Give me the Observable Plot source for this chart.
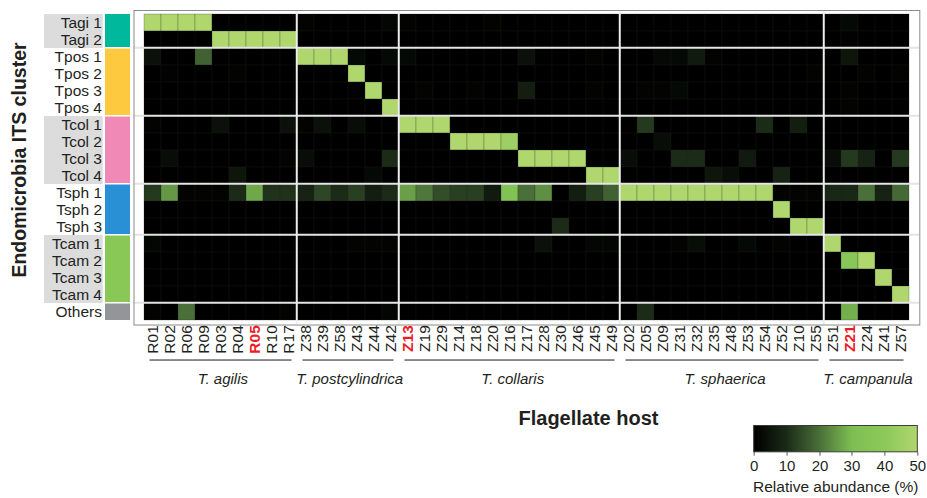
<!DOCTYPE html>
<html>
<head>
<meta charset="utf-8">
<script src="https://cdn.jsdelivr.net/npm/d3@7"></script>
<script src="https://cdn.jsdelivr.net/npm/@observablehq/plot@0.6"></script>
<style>
  body { margin: 0; background: #fff; overflow: hidden; font-family: "Liberation Sans", Arial, Helvetica, sans-serif; }
  #wrap { position: relative; width: 927px; height: 498px; overflow: hidden; }
  #chart { position: absolute; left: 0; top: 0; }
  #legend { position: absolute; left: 744px; top: 425px; }
  #legendLabel { position: absolute; left: 753px; top: 478px; font-size: 15.5px; color: #231f20; white-space: nowrap; }
</style>
</head>
<body>
<div id="wrap">
  <div id="chart"></div>
  <div id="legend"></div>
  <div id="legendLabel">Relative abundance (%)</div>
</div>
<script>
// ---------------- data ----------------
const hosts = ["R01","R02","R06","R09","R03","R04","R05","R10","R17",
  "Z38","Z39","Z58","Z43","Z44","Z42",
  "Z13","Z19","Z29","Z14","Z18","Z20","Z16","Z17","Z28","Z30","Z46","Z45","Z49",
  "Z02","Z05","Z09","Z31","Z32","Z35","Z48","Z53","Z54","Z52","Z10","Z55",
  "Z51","Z21","Z24","Z41","Z57"];
const redHosts = ["R05","Z13","Z21"];

const hostGroupNames = ["T. agilis","T. postcylindrica","T. collaris","T. sphaerica","T. campanula"];
const hostGroupFirst = ["R01","Z38","Z13","Z02","Z51"];
const hostGroupLast  = ["R17","Z42","Z49","Z55","Z57"];

const clusters = ["Tagi 1","Tagi 2","Tpos 1","Tpos 2","Tpos 3","Tpos 4",
  "Tcol 1","Tcol 2","Tcol 3","Tcol 4","Tsph 1","Tsph 2","Tsph 3",
  "Tcam 1","Tcam 2","Tcam 3","Tcam 4","Others"];
const clusterGroupMembers = [
  ["Tagi 1","Tagi 2"],
  ["Tpos 1","Tpos 2","Tpos 3","Tpos 4"],
  ["Tcol 1","Tcol 2","Tcol 3","Tcol 4"],
  ["Tsph 1","Tsph 2","Tsph 3"],
  ["Tcam 1","Tcam 2","Tcam 3","Tcam 4"],
  ["Others"]
];
const clusterGroupColors = ["#00b89c","#fdc93f","#f189b7","#2a90d5","#89c857","#939598"];
const clusterGroupShaded = [true,false,true,false,true,false];

// Relative abundance (%) per ITS cluster, in host order above
//              R01 R02 R06 R09 R03 R04 R05 R10 R17 | Z38 Z39 Z58 Z43 Z44 Z42 | Z13 Z19 Z29 Z14 Z18 Z20 Z16 Z17 Z28 Z30 Z46 Z45 Z49 | Z02 Z05 Z09 Z31 Z32 Z35 Z48 Z53 Z54 Z52 Z10 Z55 | Z51 Z21 Z24 Z41 Z57
const tagi1  = [50,50,50,50,0,0,0,0,0,   1,0,0,0,0,1.5,   1,0,0,0,0,1,0,0,0,0,0,0,0,   0,0,0,0,0,0,0,0,0,0,0,0,   0,2,0,0,0];
const tagi2  = [0,0,0,0,50,50,50,50,50,  0,0,0,0,0,0,     0,0,0,0,0,0,0,0,0,0,0,0,0,   0,0,0,0,0,0,0,0,0,0,0,0,   0,0.5,0,0,0];
const tpos1  = [4,0,0,18,0,0,0,0,0,      50,50,50,2,0,2,  2,0,0,0,0,0,0,4,0,0,0,1,0,   0,0,2,2,6,1,0,0,0,0,0,0,   0,5,0,0,0];
const tpos2  = [0,0.5,0,0,0,1,0,0,0,     0,0,0,50,0,0,    0,0,0,0,0,0,0,0,0,0,0,0,0,   0,0,0,0,0,0,0,0,0,0,0,1,   0,0,1,0,1];
const tpos3  = [0,0,0,0,0,0,0,0,0,       0,0,0,0.5,50,0,  0,1,0,0,1,0,0,7,0,0,0,1,0,   0,1,1,2,0,0,0,0,0,0,0,0,   0,1,0,0,0];
const tpos4  = [0,0,0,0,0,0,0,0,0,       0,0,0,0,0,50,    0,0,0,0,0,0,0,0,0,0,0,0,0,   0,0,0,0,0,0,0,0,0,0,0,0,   0,1,0,0,0];
const tcol1  = [1,0,0,0,4,0,0,0,4,       1,4,0,3,0,0,     50,50,50,0,0,0,0,0,0,0,0,0,0, 0,12,0,0,0,0,0,0,10,0,7,0, 0,0,0,0,0];
const tcol2  = [0,0,0,0,0,0,0,0,0,       0,0,0,0,0,0,     0,0,0,50,50,50,45,0,0,0,0,0,0, 0,0,3,0,0,0,0,0,0,0,0,0,  0,0,0,0,0];
const tcol3  = [0,3,0,0,0,0,0,0,1,       3,0,0,0,0,10,    0,0,0,0,0,0,0,50,50,50,50,0,0, 3,0,0,10,10,0,0,6,0,0,0,0, 3,12,8,0,12];
const tcol4  = [0,0,0,0,0,5,0,0,0,       0,0,0,0,2,0,     0,0,0,0,0,0,0,0,0,0,0,50,50, 0,0,0,0,0,5,3,0,0,8,0,0,   0,0,0,0,0];
const tsph1  = [12,25,1,1,1,10,27,11,11, 8,14,10,13,7,10, 26,21,15,13,13,6,33,20,24,0,7,13,18, 50,50,50,50,50,50,50,50,50,1,1,1, 9,9,20,8,19];
const tsph2  = [0,0,0,0,0,0,0,0,0,       0,0,0,0,0,0,     0,0,0,0,0,0,0,0,0,0,0,0,0,   0,0,0,0,0,0,0,0,0,50,0,0,  0,0,0,0,0];
const tsph3  = [0,0,0,0,0,0,0,0,0,       0,0,0,0,0,0,     0,0,0,0,0,0,0,0,0,10,0,0,0,  0,0,0,0,0,0,0,0,0,0,50,50,  0,0,0,0,0];
const tcam1  = [1.5,0,0,0,0,0,0,0,0,     0,0,0,1,1,1,     0,0,0,0,0,0,0,0,4,0,0,1.5,1.5, 0,0,0,1,3,0,0,2,0,1,0,0, 50,0,0,0,0];
const tcam2  = [0,0,0,0,0,0,0,0,0,       0,0,0,0,0,0,     0,0,0,0,0,0,0,0,0,0,0,0,0,   0,0,0,0,0,0,0,0,0,0,0,0,   0,38,50,0,0];
const tcam3  = [0,0,0,0,0,0,0,0,0,       0,0,0,0,0,0,     0,0,0,0,0,0,0,0,0,0,0,0,0,   0,0,0,0,0,0,0,0,0,0,0,0,   0,0,0,50,0];
const tcam4  = [0,0,0,0,0,0,0,0,0,       0,0,0,0,0,0,     0,0,0,0,0,0,0,0,0,0,0,0,0,   0,0,0,0,0,0,0,0,0,0,0,0,   0,0,0,0,50];
const others = [1,0,20,0,0,0,0,0,1,      0,0,0,0,0,1.5,   0,0,0,0,0,0,0,0,0,0,0,0,0,   0,10,0,0,0,0,0,0,0,0,0,0,  0,28,0,0,0];

const rampDomain = [0,10,20,30,40,50];
const rampColors = ["#000000","#1b2b18","#4b6f38","#7ebf53","#8cc85a","#b0d66e"];
const legendTicks = [0,10,20,30,40,50];

// ---------------- layout ----------------
const W = 927, H = 498;
const ML = 133.5, MR = 7.7, MT = 10, MB = 173.5;
const frameW = W - ML - MR;
const bwX = frameW / hosts.length;
const bwY = (H - MT - MB) / clusters.length;
const lastCenter = MT + (clusters.length - 0.5) * bwY + 0.5; // pixel y of "Others" band centre (+ crisp offset)
const font = "'Liberation Sans', Arial, Helvetica, sans-serif";
const ink = "#231f20";

const rowValues = [tagi1,tagi2,tpos1,tpos2,tpos3,tpos4,tcol1,tcol2,tcol3,tcol4,tsph1,tsph2,tsph3,tcam1,tcam2,tcam3,tcam4,others];
const cells = clusters.flatMap((c, i) => hosts.map((h, j) => ({cluster: c, host: h, value: rowValues[i][j]})));

const normalHosts = hosts.filter(h => !redHosts.includes(h));
const clusterGroupFirst = clusterGroupMembers.map(m => m[0]);

// label shading and color strip (in the left margin)
const bgMarks = [];
clusterGroupMembers.forEach((members, g) => {
  if (clusterGroupShaded[g]) {
    bgMarks.push(Plot.cell(members, {y: d => d, fill: "#dcdcdd",
      insetLeft: -(ML - 44), insetRight: frameW + (ML - 102.7)}));
  }
  bgMarks.push(Plot.cell(members, {y: d => d, fill: clusterGroupColors[g],
    insetLeft: -(ML - 105), insetRight: frameW + (ML - 130)}));
});

// host tick labels (rotated), brackets and group names below the heatmap
const tickLabelStyle = {x: d => d, y: () => "Others", text: d => d, rotate: -90,
  textAnchor: "end", lineAnchor: "middle", dy: 329.5 - lastCenter, fontSize: 15.5};
const bracketStyle = {y: () => "Others", dy: 364.3 - lastCenter, stroke: "#4d4d4d", strokeWidth: 1.3};
const bracketMarks = [];
const groupLabelMarks = [];
hostGroupNames.forEach((name, i) => {
  const a = hosts.indexOf(hostGroupFirst[i]), b = hosts.indexOf(hostGroupLast[i]);
  const members = hosts.slice(a, b + 1);
  bracketMarks.push(Plot.tickY([members[0]], {x: d => d, ...bracketStyle, insetLeft: 5.5}));
  bracketMarks.push(Plot.tickY(members.slice(1, -1), {x: d => d, ...bracketStyle}));
  bracketMarks.push(Plot.tickY([members[members.length - 1]], {x: d => d, ...bracketStyle, insetRight: 5.5}));
  groupLabelMarks.push(Plot.text([name], {
    x: () => hostGroupFirst[i], y: () => "Others", text: d => d,
    dx: (members.length - 1) / 2 * bwX, dy: 383.5 - lastCenter,
    fontStyle: "italic", fontSize: 15, fill: ink, textAnchor: "middle", lineAnchor: "middle"
  }));
});

const chart = Plot.plot({
  width: W, height: H,
  marginLeft: ML, marginRight: MR, marginTop: MT, marginBottom: MB,
  style: {fontFamily: font, fontSize: "15px", color: ink, background: "transparent", overflow: "visible"},
  x: {domain: hosts, padding: 0, axis: null},
  y: {domain: clusters, padding: 0},
  color: {type: "linear", domain: rampDomain, range: rampColors, clamp: true},
  marks: [
    ...bgMarks,
    Plot.ruleY(clusterGroupFirst.slice(1), {y: d => d, dy: -bwY / 2 - 0.5, stroke: "#ffffff", strokeWidth: 1.5,
      insetLeft: -(ML - 105), insetRight: frameW + (ML - 130)}),
    Plot.cell(cells, {x: "host", y: "cluster", fill: "value", inset: 0, stroke: "#222222", strokeWidth: 0.4, strokeOpacity: 0.6}),
    Plot.ruleY(clusterGroupFirst.slice(1), {y: d => d, dy: -bwY / 2 - 0.5, stroke: "#e4e4e4", strokeWidth: 2}),
    Plot.ruleX(hostGroupFirst.slice(1), {x: d => d, dx: -bwX / 2 - 0.5, stroke: "#eeeeee", strokeWidth: 2}),
    Plot.frame({stroke: "#8a8a8a", strokeWidth: 1}),
    Plot.axisY({tickSize: 0, tickPadding: ML - 101.5, label: null, fontSize: 15.5, fill: ink}),
    Plot.text(normalHosts, {...tickLabelStyle, fill: ink}),
    Plot.text(redHosts, {...tickLabelStyle, fill: "#ed1c24", fontWeight: "bold"}),
    ...bracketMarks,
    ...groupLabelMarks,
    Plot.text(["Flagellate host"], {frameAnchor: "bottom", text: d => d,
      dx: 588 - (ML + frameW / 2), dy: 93.6, fontSize: 20, fontWeight: "bold", fill: ink,
      textAnchor: "middle", lineAnchor: "middle"}),
    Plot.text(["Endomicrobia ITS cluster"], {frameAnchor: "left", text: d => d, rotate: -90,
      dx: 19 - ML, dy: 159.5 - (MT + (H - MT - MB) / 2), fontSize: 19.5, fontWeight: "bold", fill: ink,
      textAnchor: "middle", lineAnchor: "middle"})
  ]
});
document.getElementById("chart").appendChild(chart);

// ---------------- legend ----------------
const legML = 10, legMR = 10, barH = 27.7;
const legend = Plot.legend({
  color: {type: "linear", domain: rampDomain, range: rampColors},
  width: 169 + legML + legMR, height: 54, marginLeft: legML, marginRight: legMR,
  marginTop: 0, marginBottom: 54 - barH,
  ticks: legendTicks, tickSize: 6, label: null,
  style: {fontFamily: font, fontSize: "15.5px", color: ink, background: "transparent", overflow: "visible"}
});
document.getElementById("legend").appendChild(legend);
const lsvg = d3.select(legend);
lsvg.selectAll(".tick line").attr("y1", 0).attr("y2", 4).attr("stroke", "#555");
lsvg.append("rect").attr("x", legML).attr("y", 0.5).attr("width", 169).attr("height", barH - 0.5)
  .attr("fill", "none").attr("stroke", "#3a3a3a").attr("stroke-width", 1);
</script>
</body>
</html>
